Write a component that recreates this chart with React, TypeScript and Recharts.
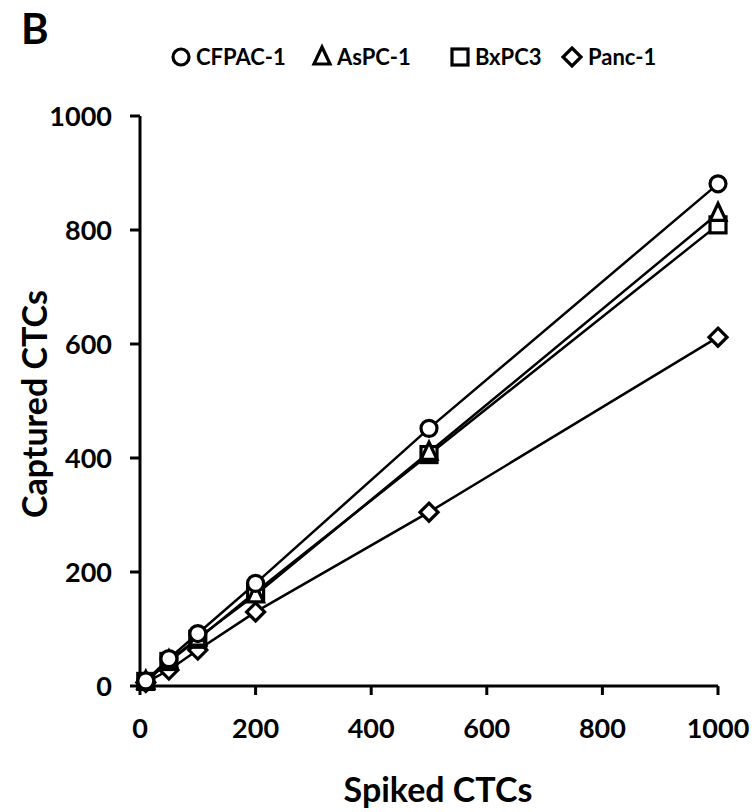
import React from 'react';
import { LineChart, Line, XAxis, YAxis } from 'recharts';

// Spiked vs captured CTC counts per cell line
const spiked = [10, 50, 100, 200, 500, 1000];
const cfpac1 = [9, 48, 92, 180, 452, 881];
const aspc1 = [8, 44, 84, 160, 410, 829];
const bxpc3 = [8, 43, 82, 165, 406, 809];
const panc1 = [6, 28, 63, 130, 305, 612];

const xTicks = [0, 200, 400, 600, 800, 1000];
const yTicks = [0, 200, 400, 600, 800, 1000];

const FONT = 'Lato, "Open Sans", sans-serif';
const INK = '#000';

const data = spiked.map((x, i) => ({
  x,
  cfpac: cfpac1[i],
  aspc: aspc1[i],
  bxpc: bxpc3[i],
  panc: panc1[i],
}));

type Shape = 'circle' | 'triangle' | 'square' | 'diamond';

// hollow marker, white fill with thick black outline
const Marker = ({ cx, cy, shape }: { cx: number; cy: number; shape: Shape }) => {
  const common = { fill: '#fff', stroke: INK, strokeWidth: 3.2 };
  if (shape === 'circle') return <circle cx={cx} cy={cy} r={8} {...common} />;
  if (shape === 'square') return <rect x={cx - 8} y={cy - 8} width={16} height={16} {...common} />;
  if (shape === 'triangle')
    return <polygon points={`${cx},${cy - 10} ${cx + 8},${cy + 7} ${cx - 8},${cy + 7}`} {...common} />;
  return <polygon points={`${cx},${cy - 9} ${cx + 9},${cy} ${cx},${cy + 9} ${cx - 9},${cy}`} {...common} />;
};

const dotFor = (shape: Shape) => (props: any) => (
  <Marker key={`${shape}-${props.index}`} cx={props.cx} cy={props.cy} shape={shape} />
);

const series: { key: string; name: string; shape: Shape }[] = [
  { key: 'panc', name: 'Panc-1', shape: 'diamond' },
  { key: 'bxpc', name: 'BxPC3', shape: 'square' },
  { key: 'aspc', name: 'AsPC-1', shape: 'triangle' },
  { key: 'cfpac', name: 'CFPAC-1', shape: 'circle' },
];

// legend layout: icon centre and label start, left to right
const legendItems: { key: string; icon: number; text: number }[] = [
  { key: 'cfpac', icon: 181, text: 196 },
  { key: 'aspc', icon: 322, text: 337 },
  { key: 'bxpc', icon: 460, text: 475 },
  { key: 'panc', icon: 572, text: 588 },
];

const titleStyle = { fill: INK, fontSize: 34, fontWeight: 700, fontFamily: FONT };

export default function App() {
  return (
    <div style={{ position: 'relative', width: 753, height: 812, background: '#fff', fontFamily: FONT }}>
      <style>{'body{margin:0}'}</style>
      <div style={{ position: 'absolute', left: 21, top: 3, fontSize: 42, fontWeight: 700, lineHeight: '50px' }}>B</div>
      {legendItems.map((it) => {
        const s = series.find((d) => d.key === it.key)!;
        return (
          <React.Fragment key={it.key}>
            <svg
              width={24}
              height={24}
              style={{ position: 'absolute', left: it.icon - 12, top: 45, overflow: 'visible' }}
            >
              <Marker cx={12} cy={12} shape={s.shape} />
            </svg>
            <div
              style={{
                position: 'absolute',
                left: it.text,
                top: 42,
                fontSize: 22,
                fontWeight: 700,
                lineHeight: '30px',
                whiteSpace: 'nowrap',
              }}
            >
              {s.name}
            </div>
          </React.Fragment>
        );
      })}
      <LineChart width={753} height={812} data={data} margin={{ top: 116, right: 35, left: 0, bottom: 0 }}>
        <XAxis
          dataKey="x"
          type="number"
          domain={[0, 1000]}
          ticks={xTicks}
          interval={0}
          height={126}
          axisLine={{ stroke: INK, strokeWidth: 3 }}
          tickLine={{ stroke: INK, strokeWidth: 3 }}
          tickSize={9}
          tickMargin={24}
          tick={{ fill: INK, fontSize: 27, fontWeight: 700, fontFamily: FONT }}
          label={{
            value: 'Spiked CTCs',
            position: 'insideBottom',
            content: ({ viewBox }: any) => (
              <text x={viewBox.x + viewBox.width / 2 + 9} y={802} textAnchor="middle" {...titleStyle}>
                Spiked CTCs
              </text>
            ),
          }}
        />
        <YAxis
          type="number"
          domain={[0, 1000]}
          ticks={yTicks}
          interval={0}
          width={140}
          axisLine={{ stroke: INK, strokeWidth: 3 }}
          tickLine={{ stroke: INK, strokeWidth: 3 }}
          tickSize={10}
          tickMargin={18}
          tick={{ fill: INK, fontSize: 27, fontWeight: 700, fontFamily: FONT }}
          label={{
            value: 'Captured CTCs',
            position: 'insideLeft',
            content: ({ viewBox }: any) => {
              const cy = viewBox.y + viewBox.height / 2 + 3;
              return (
                <text
                  x={33}
                  y={cy}
                  transform={`rotate(-90, 33, ${cy})`}
                  textAnchor="middle"
                  dominantBaseline="central"
                  {...titleStyle}
                >
                  Captured CTCs
                </text>
              );
            },
          }}
        />
        {series.map((s) => (
          <Line
            key={s.key}
            dataKey={s.key}
            name={s.name}
            type="linear"
            stroke={INK}
            strokeWidth={2.5}
            dot={dotFor(s.shape)}
            activeDot={false}
            isAnimationActive={false}
          />
        ))}
      </LineChart>
    </div>
  );
}
